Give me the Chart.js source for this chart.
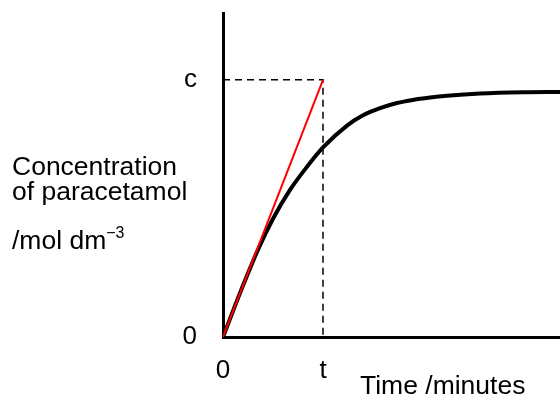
<!DOCTYPE html>
<html lang="en">
<head>
<meta charset="UTF-8">
<title>Concentration of paracetamol</title>
<script src="https://cdn.jsdelivr.net/npm/chart.js@4.4.0/dist/chart.umd.min.js"></script>
<style>
  body { margin: 0; background: #fff; }
  #wrap { position: relative; width: 560px; height: 396px; }
  .lbl { position: absolute; font-family: "Liberation Sans", Arial, sans-serif; font-size: 26.5px; line-height: 26px; color: #000; white-space: nowrap; }
  .lbl sup { font-size: 16px; vertical-align: 11px; line-height: 0; }
</style>
</head>
<body>
<div id="wrap">
  <canvas id="chart"></canvas>
  <div class="lbl" style="left:12px; top:153px">Concentration</div>
  <div class="lbl" style="left:12px; top:178px">of paracetamol</div>
  <div class="lbl" style="left:12px; top:227px">/mol dm<sup>&minus;3</sup></div>
  <div class="lbl" style="left:360px; top:372px">Time /minutes</div>
</div>
<script>
// curve (time in units of t, concentration in units of c)
const curveX = [0, 0.2, 0.35, 0.5, 0.67, 0.84, 1.0, 1.24, 1.4, 1.57, 1.74, 1.9, 2.07, 2.24, 2.57, 3.0, 3.37]
const curveY = [0, 0.2, 0.34, 0.46, 0.572, 0.662, 0.737, 0.822, 0.862, 0.89, 0.91, 0.922, 0.931, 0.938, 0.947, 0.952, 0.953]

// initial-rate tangent
const tangentX = [0, 1]
const tangentY = [0, 1]

// dashed guide from c across to t and down
const guideX = [0, 1, 1]
const guideY = [1, 1, 0]

const xTickVals = [0, 1]
const xTickLabels = ['0', 't']
const yTickVals = [0, 1]
const yTickLabels = ['0', 'c']

const pts = (xs, ys) => xs.map((x, i) => ({x: x, y: ys[i]}))
const font = {family: '"Liberation Sans", Arial, sans-serif', size: 26}

const ctx = document.getElementById('chart').getContext('2d')
new Chart(ctx, {
  type: 'scatter',
  data: {
    datasets: [
      {
        data: pts(tangentX, tangentY),
        showLine: true, borderColor: '#ff0000', borderWidth: 2,
        pointRadius: 0, tension: 0
      },
      {
        data: pts(curveX, curveY),
        showLine: true, borderColor: '#000', borderWidth: 4,
        pointRadius: 0, cubicInterpolationMode: 'monotone'
      },
      {
        data: pts(guideX, guideY),
        showLine: true, borderColor: '#000', borderWidth: 1.5,
        borderDash: [7, 5], pointRadius: 0, tension: 0
      }
    ]
  },
  options: {
    responsive: true,
    maintainAspectRatio: false,
    animation: false,
    layout: {padding: {top: 13, left: 0, right: 0, bottom: 0}},
    plugins: {legend: {display: false}, tooltip: {enabled: false}},
    scales: {
      x: {
        type: 'linear', min: 0, max: 3.37,
        border: {color: '#000', width: 3},
        grid: {display: false, drawTicks: false},
        ticks: {
          font: font, color: '#000', padding: 18, maxRotation: 0, autoSkip: false,
          callback: v => xTickLabels[xTickVals.indexOf(v)]
        },
        afterBuildTicks: s => { s.ticks = xTickVals.map(v => ({value: v})) },
        afterFit: s => { s.height = 59; s.paddingLeft = 0; s.paddingRight = 0 }
      },
      y: {
        type: 'linear', min: 0, max: 1.26,
        border: {color: '#000', width: 3},
        grid: {display: false, drawTicks: false},
        ticks: {
          font: font, color: '#000', padding: 26, autoSkip: false,
          callback: v => yTickLabels[yTickVals.indexOf(v)]
        },
        afterBuildTicks: s => { s.ticks = yTickVals.map(v => ({value: v})) },
        afterFit: s => { s.width = 223; s.paddingTop = 0; s.paddingBottom = 0 }
      }
    }
  }
})
</script>
</body>
</html>
